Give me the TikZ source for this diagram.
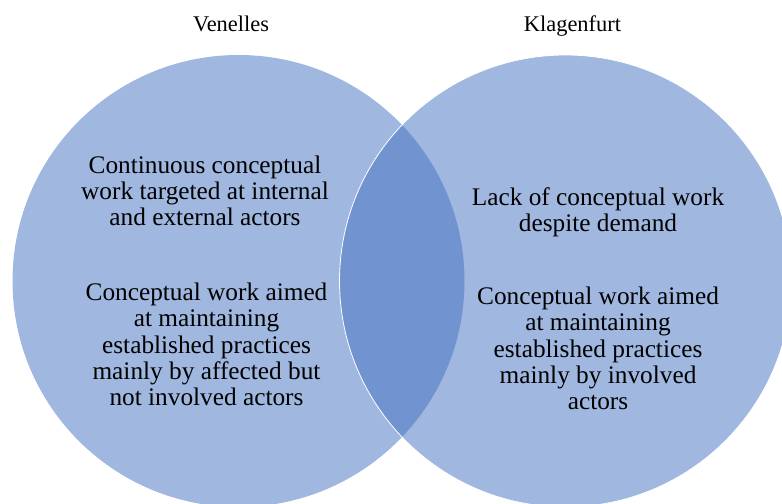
\documentclass[tikz,border=0pt]{standalone}
\usepackage{fontspec}
\setmainfont{Liberation Serif}
\definecolor{circfill}{RGB}{160,183,223}
\definecolor{lensfill}{RGB}{113,148,209}
\begin{document}
\begin{tikzpicture}[x=1bp,y=-1bp,
  setlabel/.style={font=\fontsize{22.5}{26}\selectfont, anchor=base, inner sep=0pt},
  bodytext/.style={font=\fontsize{25.4}{26.3}\selectfont, align=center, inner sep=0pt, anchor=center}]
\useasboundingbox (0,0) rectangle (782,504);
\coordinate (lc) at (238.5,281);
\coordinate (rc) at (565.5,281);
\fill[circfill] (lc) circle[radius=226];
\fill[circfill] (rc) circle[radius=226];
\begin{scope}
  \clip (lc) circle[radius=226];
  \fill[lensfill] (rc) circle[radius=226];
\end{scope}
\draw[white, line width=0.8bp] (rc) circle[radius=226];
\node[setlabel] (venelles) at (231,32) {Venelles};
\node[setlabel] (klagenfurt) at (572.5,32) {Klagenfurt};
\node[bodytext] (v1) at (205,191) {Continuous conceptual\\work targeted at internal\\and external actors};
\node[bodytext] (v2) at (206.5,344.5) {Conceptual work aimed\\at maintaining\\established practices\\mainly by affected but\\not involved actors};
\node[bodytext] (k1) at (598,212) {Lack of conceptual work\\despite demand};
\node[bodytext] (k2) at (598,348.5) {Conceptual work aimed\\at maintaining\\established practices\\mainly by involved\\actors};
\end{tikzpicture}
\end{document}
